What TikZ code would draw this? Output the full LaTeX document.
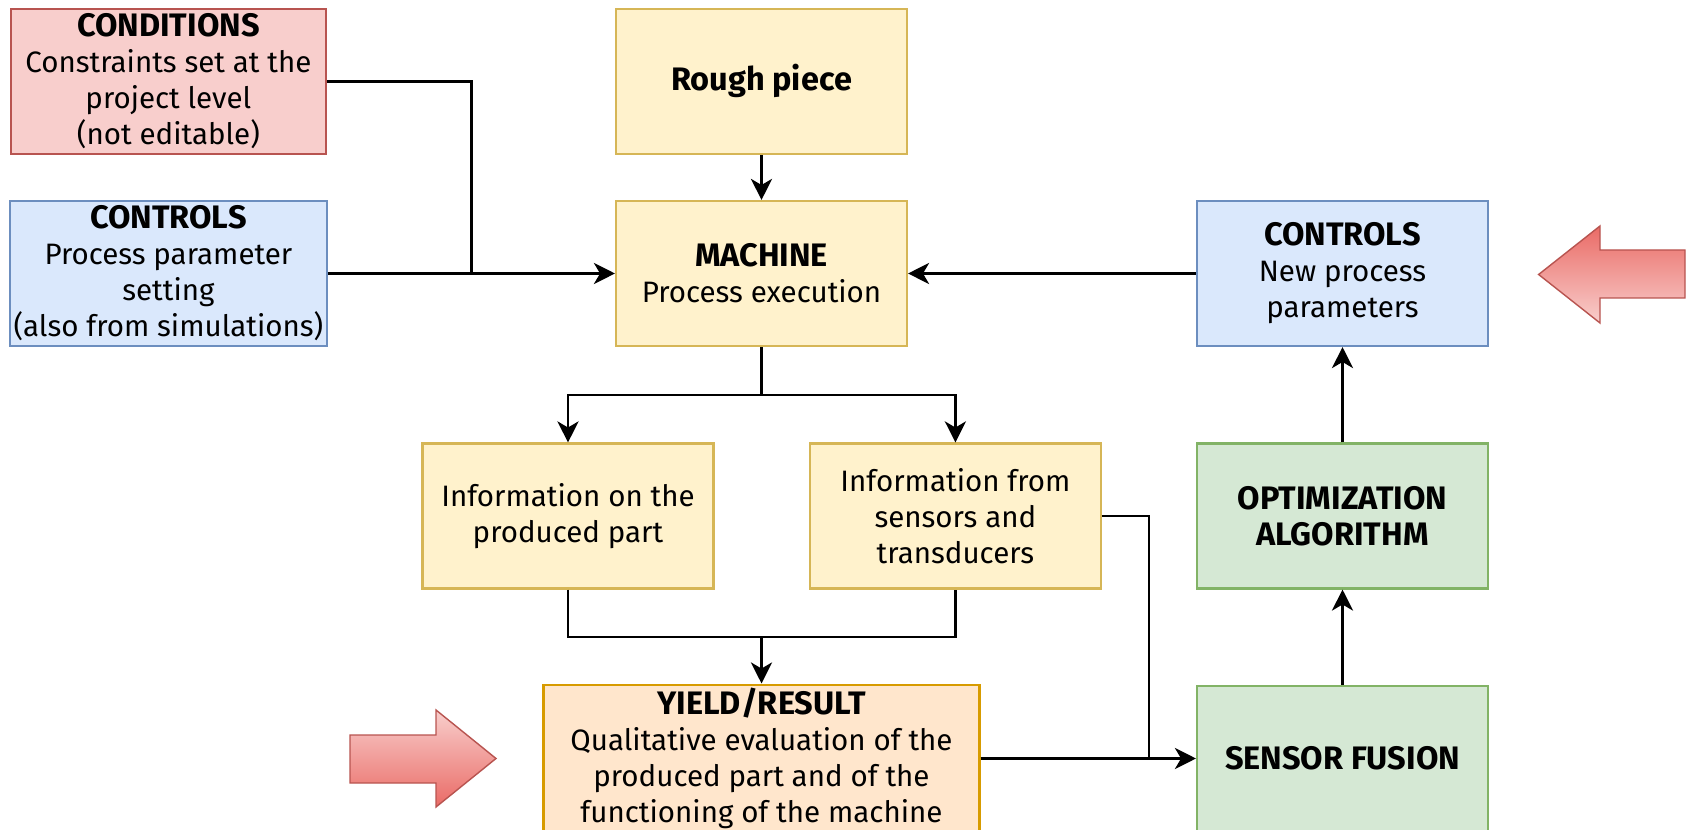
\documentclass[tikz,border=0pt]{standalone}
\usepackage{fontspec}
\setmainfont{Fira Sans}
\usepackage{tikz}
\usetikzlibrary{arrows.meta}
\usetikzlibrary{positioning}

\definecolor{redfill}{HTML}{F8CECC}
\definecolor{redline}{HTML}{B85450}
\definecolor{bluefill}{HTML}{DAE8FC}
\definecolor{blueline}{HTML}{6C8EBF}
\definecolor{yelfill}{HTML}{FFF2CC}
\definecolor{yelline}{HTML}{D6B656}
\definecolor{orfill}{HTML}{FFE6CC}
\definecolor{orline}{HTML}{D79B00}
\definecolor{grfill}{HTML}{D5E8D4}
\definecolor{grline}{HTML}{82B366}
\definecolor{arrdark}{HTML}{EA6B66}

\newcommand{\hd}[1]{{\fontsize{18.5}{20.5}\selectfont\bfseries #1}}

\tikzset{
    box/.style={draw, line width=1.2pt, minimum width=5.82cm, minimum height=2.9cm,
        align=center, inner sep=2pt, font=\fontsize{16.8}{20.5}\selectfont},
    condbox/.style={box, fill=redfill, draw=redline, minimum width=6.3cm},
    ctrlbox/.style={box, fill=bluefill, draw=blueline},
    machbox/.style={box, fill=yelfill, draw=yelline},
    yieldbox/.style={box, fill=orfill, draw=orline, minimum width=8.72cm},
    algbox/.style={box, fill=grfill, draw=grline},
    wire/.style={line width=1.4pt},
    conn/.style={wire, -{Stealth[length=12pt,width=12pt,inset=3.5pt]}},
    bigarrow/.style={draw=redline, line width=0.8pt}
}

\begin{document}
\begin{tikzpicture}[x=0.02cm, y=-0.02cm]
                \clip (0,0) rectangle (1687,830);
                % left column
                \node[condbox] (cond) at (168.4,81.3) {\hd{CONDITIONS}\\Constraints set at the\\project level\\(not editable)};
                \node[ctrlbox, minimum width=6.3cm] (ctrlL) at (168.4,273.5) {\hd{CONTROLS}\\Process parameter\\setting\\(also from simulations)};
                % middle column
                \node[machbox] (rough) at (761.5,81.3) {\hd{Rough piece}};
                \node[machbox] (mach) at (761.5,273.5) {\hd{MACHINE}\\Process execution};
                \node[machbox] (part) at (568,516) {Information on the\\produced part};
                \node[machbox] (sens) at (955.4,516) {Information from\\sensors and\\transducers};
                \node[yieldbox] (yield) at (761.5,758.5) {\hd{YIELD/RESULT}\\Qualitative evaluation of the\\produced part and of the\\functioning of the machine};
                % right column
                \node[ctrlbox] (ctrlR) at (1342.5,273.5) {\hd{CONTROLS}\\New process\\parameters};
                \node[algbox] (opt) at (1342.5,516) {\hd{OPTIMIZATION}\\\hd{ALGORITHM}};
                \node[algbox] (fusion) at (1342.5,758.5) {\hd{SENSOR FUSION}};

                \coordinate (jn) at (471.3,273.5);
                \coordinate (split) at (761.5,394.9);
                \coordinate (merge) at (761.5,637);
                \coordinate (tap) at (1149,758.5);

                \draw[wire] (cond.east) -| (jn);
                \draw[conn] (ctrlL.east) -- (mach.west);
                \draw[conn] (rough) -- (mach);
                \draw[wire] (mach.south) -- (split);
                \draw[conn] (split) -| (part.north);
                \draw[conn] (split) -| (sens.north);
                \draw[wire] (part.south) |- (merge) -| (sens.south);
                \draw[conn] (merge) -- (yield.north);
                \draw[wire] (sens.east) -| (tap);
                \draw[conn] (yield.east) -- (fusion.west);
                \draw[conn] (fusion) -- (opt);
                \draw[conn] (opt) -- (ctrlR);
                \draw[conn] (ctrlR) -- (mach);

                % big red arrows
                \path[bigarrow, top color=arrdark, bottom color=redfill]
                    (1538.6,274.5) -- (1600,226) -- (1600,250) -- (1685,250)
                    -- (1685,298) -- (1600,298) -- (1600,323) -- cycle;
                \path[bigarrow, top color=redfill, bottom color=arrdark]
                    (496,758.5) -- (436,710) -- (436,735) -- (350,735)
                    -- (350,783) -- (436,783) -- (436,807) -- cycle;
            \end{tikzpicture}
\end{document}
